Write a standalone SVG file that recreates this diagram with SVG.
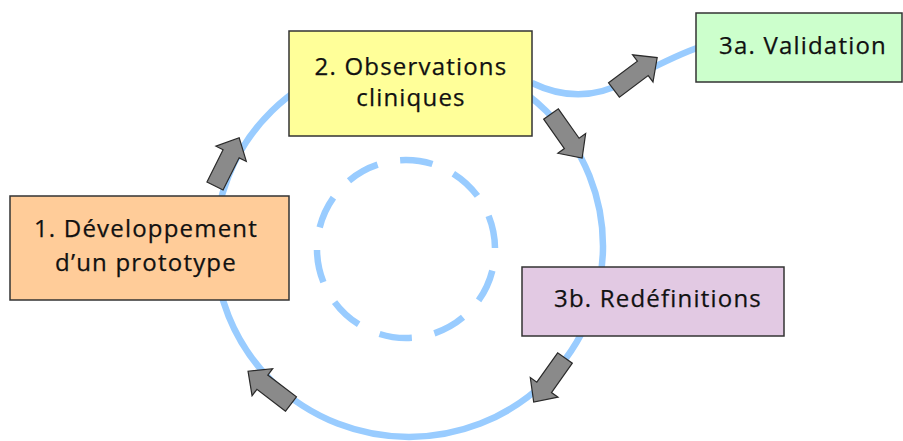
<svg xmlns="http://www.w3.org/2000/svg" xmlns:xlink="http://www.w3.org/1999/xlink" width="903" height="441" viewBox="0 0 903 441">
<style>
.loop{fill:none;stroke:#99CCFF;stroke-width:6.5}
.dash{fill:none;stroke:#99CCFF;stroke-width:6.5;stroke-dasharray:33 23}
.arr{fill:#8A8A8A;stroke:#2A2A2A;stroke-width:1.2;stroke-linejoin:miter}
.box{stroke:#333;stroke-width:1.5}
.t{font-family:"Open Sans","Noto Sans","DejaVu Sans",sans-serif;font-size:24px;letter-spacing:1.2px;fill:#111;stroke:#111;stroke-width:0.25;text-anchor:middle}
</style>
<defs>
<polygon id="blk" class="arr" points="0,-9 36,-9 36,-17 54,0 36,17 36,9 0,9"/>
</defs>
<rect width="903" height="441" fill="#fff"/>
<g id="connectors">
<ellipse class="loop" cx="409" cy="246" rx="194" ry="191"/>
<circle class="dash" cx="406" cy="249" r="89" pathLength="560" stroke-dashoffset="34"/>
<path class="loop" d="M532,83 C565,99 595,98 625,82 S675,56 697,48"/>
<use xlink:href="#blk" transform="translate(215,186) rotate(-63.4)"/>
<use xlink:href="#blk" transform="translate(614,90) rotate(-36.9)"/>
<use xlink:href="#blk" transform="translate(551,114) rotate(54.8)"/>
<use xlink:href="#blk" transform="translate(565,358) rotate(125.4)"/>
<use xlink:href="#blk" transform="translate(291,404) rotate(217.3)"/>
</g>
<g id="node1">
<rect class="box" x="10" y="196" width="279" height="104" fill="#FFCC99"/>
<text class="t" x="146" y="237">1. Développement</text>
<text class="t" x="146" y="271">d’un prototype</text>
</g>
<g id="node2">
<rect class="box" x="289" y="31" width="243" height="105" fill="#FFFF99"/>
<text class="t" x="411" y="75">2. Observations</text>
<text class="t" x="411" y="106">cliniques</text>
</g>
<g id="node3a">
<rect class="box" x="696" y="13" width="206" height="69" fill="#CCFFCC"/>
<text class="t" x="803" y="54">3a. Validation</text>
</g>
<g id="node3b">
<rect class="box" x="522" y="267" width="262" height="69" fill="#E2C9E3"/>
<text class="t" x="658" y="307">3b. Redéfinitions</text>
</g>
</svg>
